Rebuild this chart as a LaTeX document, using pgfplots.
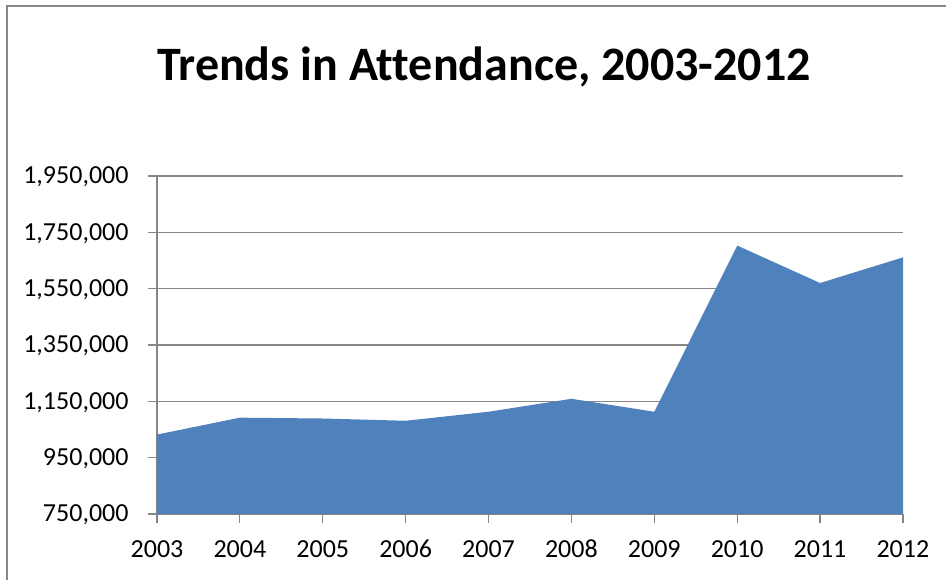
\documentclass[border=0pt]{standalone}
\usepackage{fontspec}
\setmainfont{Carlito}[Ligatures=NoCommon]
\usepackage{pgfplots}
\pgfplotsset{compat=1.18}

\definecolor{areablue}{HTML}{4F81BD}
\definecolor{gridgray}{HTML}{868686}

\begin{document}
\begin{tikzpicture}[x=1pt,y=1pt]
\useasboundingbox (0,0) rectangle (946,580);
% chart frame (only left and top edges are visible)
\draw[gridgray, line width=1.5pt] (7,-5) -- (7,574) -- (960,574);
\node[font=\fontsize{48}{56}\selectfont\bfseries] at (484,513) {Trends in Attendance, 2003-2012};
\begin{axis}[
  at={(157pt,66pt)}, anchor=south west,
  scale only axis,
  width=746pt, height=338pt,
  xmin=2003, xmax=2012,
  ymin=750000, ymax=1950000,
  xtick={2003,...,2012},
  ytick={750000,950000,...,1950000},
  axis x line*=bottom, axis y line*=left,
  axis line style={gridgray, line width=1.2pt},
  ymajorgrids,
  grid style={gridgray, line width=1.2pt},
  tick align=outside,
  major tick length=9pt,
  tick style={gridgray, line width=1.2pt},
  tick label style={font=\fontsize{26}{30}\selectfont},
  typeset ticklabels with strut,
  scaled y ticks=false,
  yticklabel style={/pgf/number format/fixed, /pgf/number format/1000 sep={,}, xshift=-16pt, yshift=-2pt},
  xticklabel style={/pgf/number format/1000 sep={}, yshift=-10pt},
  /pgf/number format/assume math mode=true,
]
\addplot[fill=areablue, draw=none] coordinates {
  (2003,1032000) (2004,1092000) (2005,1089000) (2006,1081000) (2007,1113000)
  (2008,1159000) (2009,1113000) (2010,1703000) (2011,1570000) (2012,1661000)
} \closedcycle;
\end{axis}
\end{tikzpicture}
\end{document}
